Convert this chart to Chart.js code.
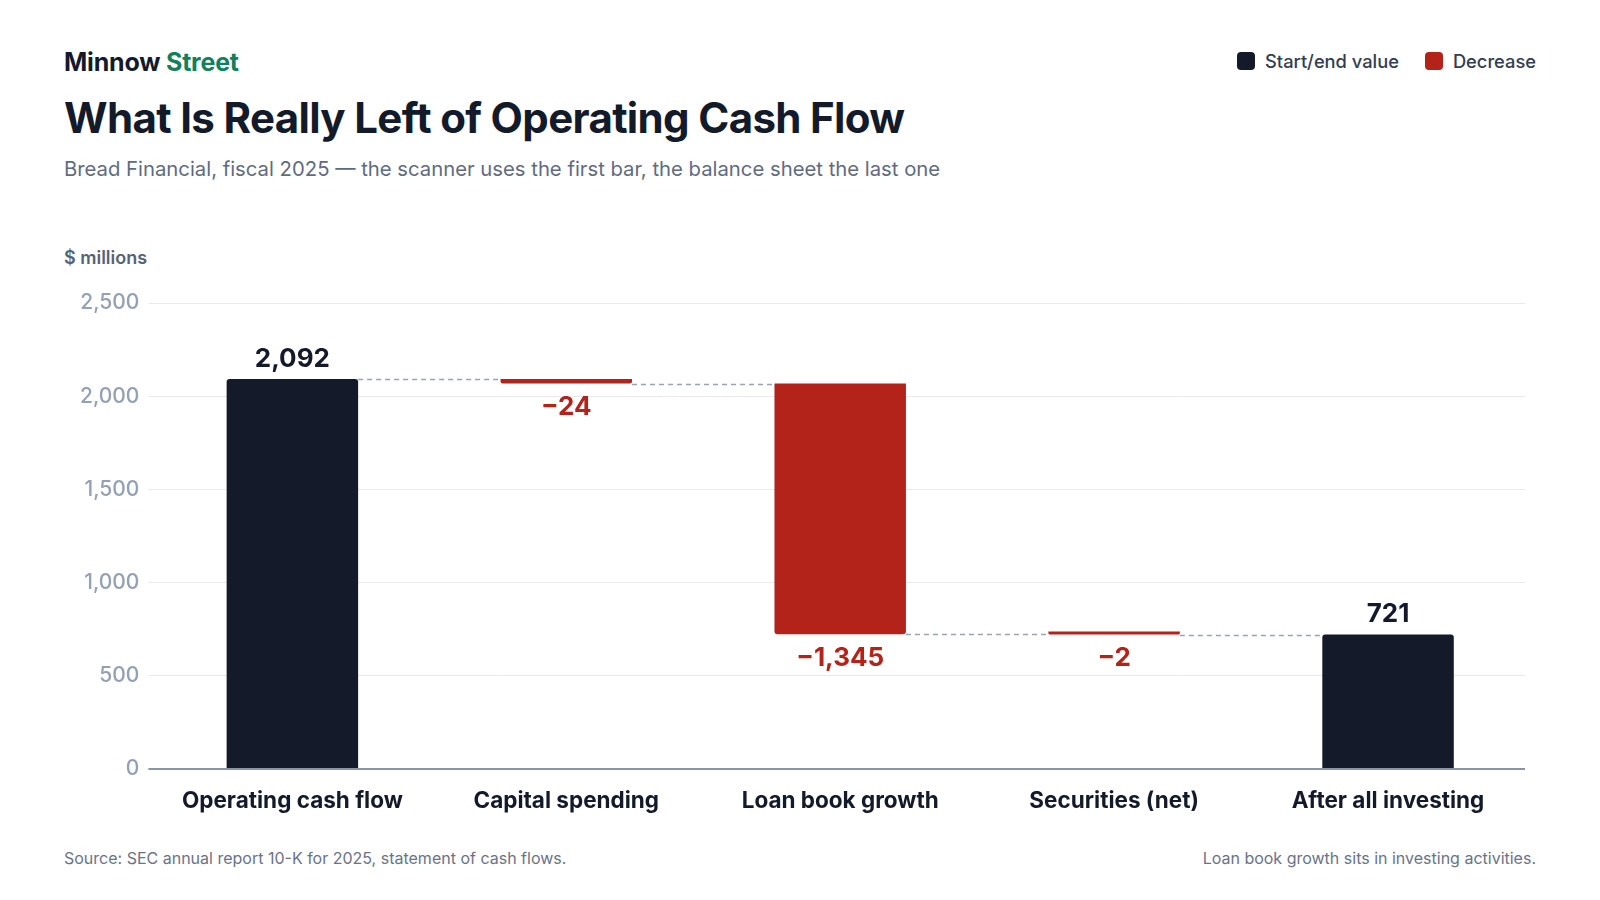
<!DOCTYPE html>
<html>
<head>
<meta charset="utf-8">
<script src="https://cdn.jsdelivr.net/npm/chart.js@4.4.1/dist/chart.umd.min.js"></script>
<style>
  html, body { margin: 0; padding: 0; background: #fff; }
  body { width: 1600px; height: 900px; position: relative; font-family: Inter, "Noto Sans", sans-serif; overflow: hidden; }
  .brand { position: absolute; left: 64px; top: 47px; font-size: 25px; font-weight: 700; color: #131a29; letter-spacing: -0.2px; }
  .brand span { color: #12805c; }
  h1 { position: absolute; left: 64px; top: 92px; margin: 0; font-size: 42px; font-weight: 700; color: #131a29; letter-spacing: -0.65px; }
  .sub { position: absolute; left: 64px; top: 156px; font-size: 20.3px; color: #5f6b80; }
  .unit { position: absolute; left: 64px; top: 247px; font-size: 18px; font-weight: 600; color: #566276; }
  .legend { position: absolute; right: 64px; top: 50px; display: flex; gap: 26px; font-size: 18.3px; font-weight: 500; color: #333d4f; }
  .legend div { display: flex; align-items: center; gap: 10px; }
  .legend i { display: inline-block; width: 18px; height: 18px; border-radius: 4px; }
  .foot { position: absolute; top: 848px; font-size: 16px; color: #6b7385; }
  #wrap { position: absolute; left: 64px; top: 270px; width: 1472px; height: 564px; }
</style>
</head>
<body>
<div class="brand">Minnow <span>Street</span></div>
<h1>What Is Really Left of Operating Cash Flow</h1>
<div class="sub">Bread Financial, fiscal 2025 — the scanner uses the first bar, the balance sheet the last one</div>
<div class="legend">
  <div><i style="background:#141a29"></i>Start/end value</div>
  <div><i style="background:#b3231a"></i>Decrease</div>
</div>
<div class="unit">$ millions</div>
<div id="wrap"><canvas id="chart"></canvas></div>
<div class="foot" style="left:64px">Source: SEC annual report 10-K for 2025, statement of cash flows.</div>
<div class="foot" style="right:64px">Loan book growth sits in investing activities.</div>
<script>
const categories = ['Operating cash flow', 'Capital spending', 'Loan book growth', 'Securities (net)', 'After all investing'];
const startValue = 2092;
const changes = [null, -24, -1345, -2, null];
const endValue = 721;
const yTicks = [0, 500, 1000, 1500, 2000, 2500];

const DARK = '#141a29';
const RED = '#b3231a';

// build floating bar ranges from the running total
let running = startValue;
const totalBars = [];
const decreaseBars = [];
const barLabels = [];
categories.forEach(function (c, i) {
  if (i === 0) {
    totalBars.push([0, startValue]); decreaseBars.push(null);
    barLabels.push(startValue);
  } else if (i === categories.length - 1) {
    totalBars.push([0, endValue]); decreaseBars.push(null);
    barLabels.push(endValue);
  } else {
    const next = running + changes[i];
    decreaseBars.push([running, next]); totalBars.push(null);
    barLabels.push(changes[i]);
    running = next;
  }
});

function fmt(v) {
  const s = Math.abs(v).toLocaleString('en-US');
  return v < 0 ? '\u2212' + s : s;
}

const waterfallExtras = {
  id: 'waterfallExtras',
  afterDatasetsDraw(chart) {
    const ctx = chart.ctx;
    const y = chart.scales.y;
    const metas = [chart.getDatasetMeta(0), chart.getDatasetMeta(1)];
    const bars = categories.map(function (c, i) {
      return totalBars[i] ? metas[0].data[i] : metas[1].data[i];
    });
    // dashed connectors
    ctx.save();
    ctx.strokeStyle = '#9aa3b2';
    ctx.lineWidth = 1.5;
    ctx.setLineDash([5, 4]);
    let level = startValue;
    for (let i = 0; i < bars.length - 1; i++) {
      if (i > 0) level = decreaseBars[i][1];
      const a = bars[i], b = bars[i + 1];
      const py = Math.round(y.getPixelForValue(level)) + 0.5;
      ctx.beginPath();
      ctx.moveTo(a.x + a.width / 2, py);
      ctx.lineTo(b.x - b.width / 2, py);
      ctx.stroke();
    }
    ctx.restore();
    // value labels
    ctx.save();
    ctx.font = '700 26px Inter, "Noto Sans", sans-serif';
    ctx.textAlign = 'center';
    bars.forEach(function (bar, i) {
      if (totalBars[i]) {
        ctx.fillStyle = DARK;
        ctx.textBaseline = 'bottom';
        ctx.fillText(fmt(barLabels[i]), bar.x, y.getPixelForValue(totalBars[i][1]) - 7);
      } else {
        ctx.fillStyle = RED;
        ctx.textBaseline = 'top';
        ctx.fillText(fmt(barLabels[i]), bar.x, y.getPixelForValue(decreaseBars[i][1]) + 11);
      }
    });
    ctx.restore();
  }
};

new Chart(document.getElementById('chart'), {
  type: 'bar',
  data: {
    labels: categories,
    datasets: [
      {
        label: 'Start/end value',
        data: totalBars,
        backgroundColor: DARK,
        borderSkipped: false,
        borderRadius: { topLeft: 3, topRight: 3, bottomLeft: 0, bottomRight: 0 },
        barPercentage: 0.48,
        categoryPercentage: 1,
        grouped: false,
      },
      {
        label: 'Decrease',
        data: decreaseBars,
        backgroundColor: RED,
        borderSkipped: false,
        borderRadius: { topLeft: 0, topRight: 0, bottomLeft: 3, bottomRight: 3 },
        minBarLength: 3,
        barPercentage: 0.48,
        categoryPercentage: 1,
        grouped: false,
      },
    ],
  },
  options: {
    responsive: true,
    maintainAspectRatio: false,
    animation: false,
    layout: { padding: { top: 33, right: 11, bottom: 0, left: 7 } },
    plugins: { legend: { display: false }, tooltip: { enabled: false } },
    scales: {
      x: {
        grid: { display: false, drawTicks: false },
        border: { display: false },
        ticks: {
          padding: 19,
          color: '#131a29',
          font: { family: 'Inter', size: 22.5, weight: '700' },
        },
      },
      y: {
        min: 0,
        max: 2500,
        afterBuildTicks(axis) { axis.ticks = yTicks.map(function (v) { return { value: v }; }); },
        border: { display: false },
        grid: {
          color: function (c) { return c.tick && c.tick.value === 0 ? '#8a94a6' : '#e8eaee'; },
          lineWidth: function (c) { return c.tick && c.tick.value === 0 ? 2 : 1; },
          tickLength: 7,
        },
        ticks: {
          padding: 9,
          color: '#94a0b4',
          font: { family: 'Inter', size: 21, weight: '500' },
          callback: function (v) { return Number(v).toLocaleString('en-US'); },
        },
      },
    },
  },
  plugins: [waterfallExtras],
});
</script>
</body>
</html>
